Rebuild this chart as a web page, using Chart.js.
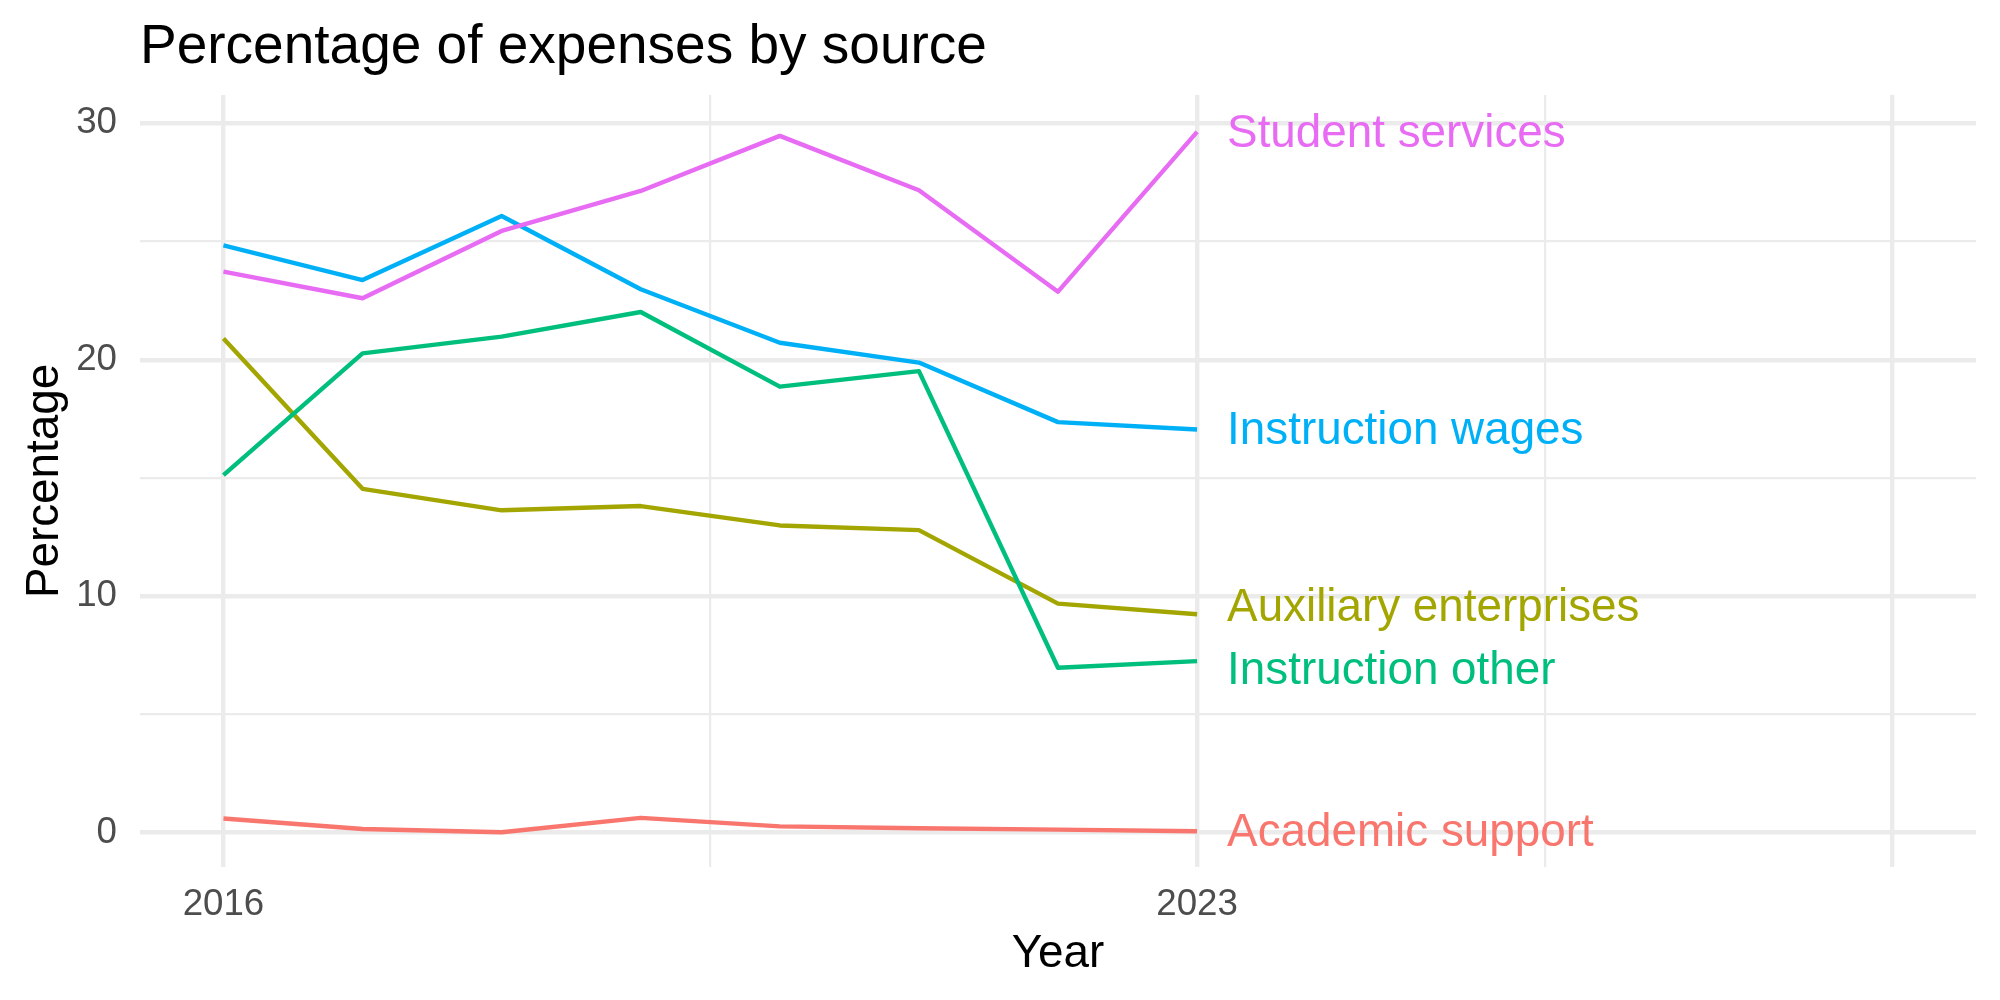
<!DOCTYPE html>
<html>
<head>
<meta charset="utf-8">
<script src="https://cdn.jsdelivr.net/npm/chart.js@4.4.0/dist/chart.umd.min.js"></script>
<style>
  html, body { margin: 0; padding: 0; background: #fff; }
  #chart { display: block; }
</style>
</head>
<body>
<canvas id="chart" width="2000" height="1000"></canvas>
<script>
// data
const years = [2016, 2017, 2018, 2019, 2020, 2021, 2022, 2023];
const seriesNames = ["Academic support", "Auxiliary enterprises", "Instruction other", "Instruction wages", "Student services"];
const academicSupport = [0.59, 0.15, 0.01, 0.62, 0.26, 0.18, 0.12, 0.05];
const auxiliaryEnterprises = [20.9, 14.54, 13.63, 13.81, 12.99, 12.79, 9.68, 9.23];
const instructionOther = [15.12, 20.27, 20.98, 22.02, 18.86, 19.52, 6.97, 7.25];
const instructionWages = [24.84, 23.37, 26.08, 22.98, 20.72, 19.88, 17.36, 17.05];
const studentServices = [23.73, 22.6, 25.45, 27.14, 29.47, 27.17, 22.88, 29.64];
const xTickLabels = [2016, 2023];
const xGridMajor = [2016, 2023, 2028];
const xGridMinor = [2019.5, 2025.5];
const yTickLabels = [0, 10, 20, 30];
const yGridMinor = [5, 15, 25];

const colors = ["#F8766D", "#A3A500", "#00BF7D", "#00B0F6", "#E76BF3"];
const allValues = [academicSupport, auxiliaryEnterprises, instructionOther, instructionWages, studentServices];
// small vertical nudges (px) so the two close end labels don't overlap
const labelNudge = [0, -8, 8, 0, 0];

const FONT = "'Liberation Sans', Arial, Helvetica, sans-serif";

const datasets = allValues.map((vals, i) => ({
  label: seriesNames[i],
  data: years.map((y, j) => ({ x: y, y: vals[j] })),
  borderColor: colors[i],
  backgroundColor: colors[i],
  borderWidth: 4.4,
  borderJoinStyle: "round",
  borderCapStyle: "butt",
  pointRadius: 0,
  tension: 0,
  fill: false,
  order: allValues.length - i,
}));

const textPlugin = {
  id: "ggtext",
  afterDatasetsDraw(chart) {
    const { ctx, chartArea, scales } = chart;
    ctx.save();
    // title
    ctx.fillStyle = "#000";
    ctx.font = "55px " + FONT;
    ctx.textAlign = "left";
    ctx.textBaseline = "alphabetic";
    ctx.fillText("Percentage of expenses by source", chartArea.left, 63);
    // axis titles
    ctx.font = "45.8px " + FONT;
    ctx.textAlign = "center";
    ctx.fillText("Year", (chartArea.left + chartArea.right) / 2, 967);
    ctx.save();
    ctx.translate(58, (chartArea.top + chartArea.bottom) / 2);
    ctx.rotate(-Math.PI / 2);
    ctx.fillText("Percentage", 0, 0);
    ctx.restore();
    // end labels
    ctx.font = "45.8px " + FONT;
    ctx.textAlign = "left";
    ctx.textBaseline = "middle";
    const lastYear = years[years.length - 1];
    allValues.forEach((vals, i) => {
      const px = scales.x.getPixelForValue(lastYear) + 30;
      const py = scales.y.getPixelForValue(vals[vals.length - 1]) + labelNudge[i] + 2;
      ctx.fillStyle = colors[i];
      ctx.fillText(seriesNames[i], px, py);
    });
    ctx.restore();
  },
};

new Chart(document.getElementById("chart"), {
  type: "line",
  data: { datasets },
  options: {
    responsive: false,
    animation: false,
    devicePixelRatio: 1,
    layout: { padding: { top: 95, right: 24, left: 0, bottom: 0 } },
    plugins: {
      legend: { display: false },
      title: { display: false },
      tooltip: { enabled: false },
    },
    scales: {
      x: {
        type: "linear",
        min: 2015.4,
        max: 2028.6,
        afterBuildTicks(scale) {
          scale.ticks = xGridMajor.concat(xGridMinor).sort((a, b) => a - b).map(v => ({ value: v }));
        },
        afterFit(scale) { scale.height = 133; },
        border: { display: false },
        grid: {
          color: "#EBEBEB",
          drawTicks: false,
          lineWidth: (c) => (xGridMinor.includes(c.tick.value) ? 2.2 : 4.4),
        },
        ticks: {
          autoSkip: false,
          maxRotation: 0,
          padding: 16,
          color: "#4D4D4D",
          font: { family: FONT, size: 36.7 },
          callback: (v) => (xTickLabels.includes(v) ? String(v) : ""),
        },
      },
      y: {
        type: "linear",
        min: -1.46,
        max: 31.2,
        afterBuildTicks(scale) {
          scale.ticks = yTickLabels.concat(yGridMinor).sort((a, b) => a - b).map(v => ({ value: v }));
        },
        afterFit(scale) { scale.width = 140; },
        border: { display: false },
        grid: {
          color: "#EBEBEB",
          drawTicks: false,
          lineWidth: (c) => (yGridMinor.includes(c.tick.value) ? 2.2 : 4.4),
        },
        ticks: {
          autoSkip: false,
          padding: 23,
          color: "#4D4D4D",
          font: { family: FONT, size: 36.7 },
          callback: (v) => (yTickLabels.includes(v) ? String(v) : ""),
        },
      },
    },
  },
  plugins: [textPlugin],
});
</script>
</body>
</html>
